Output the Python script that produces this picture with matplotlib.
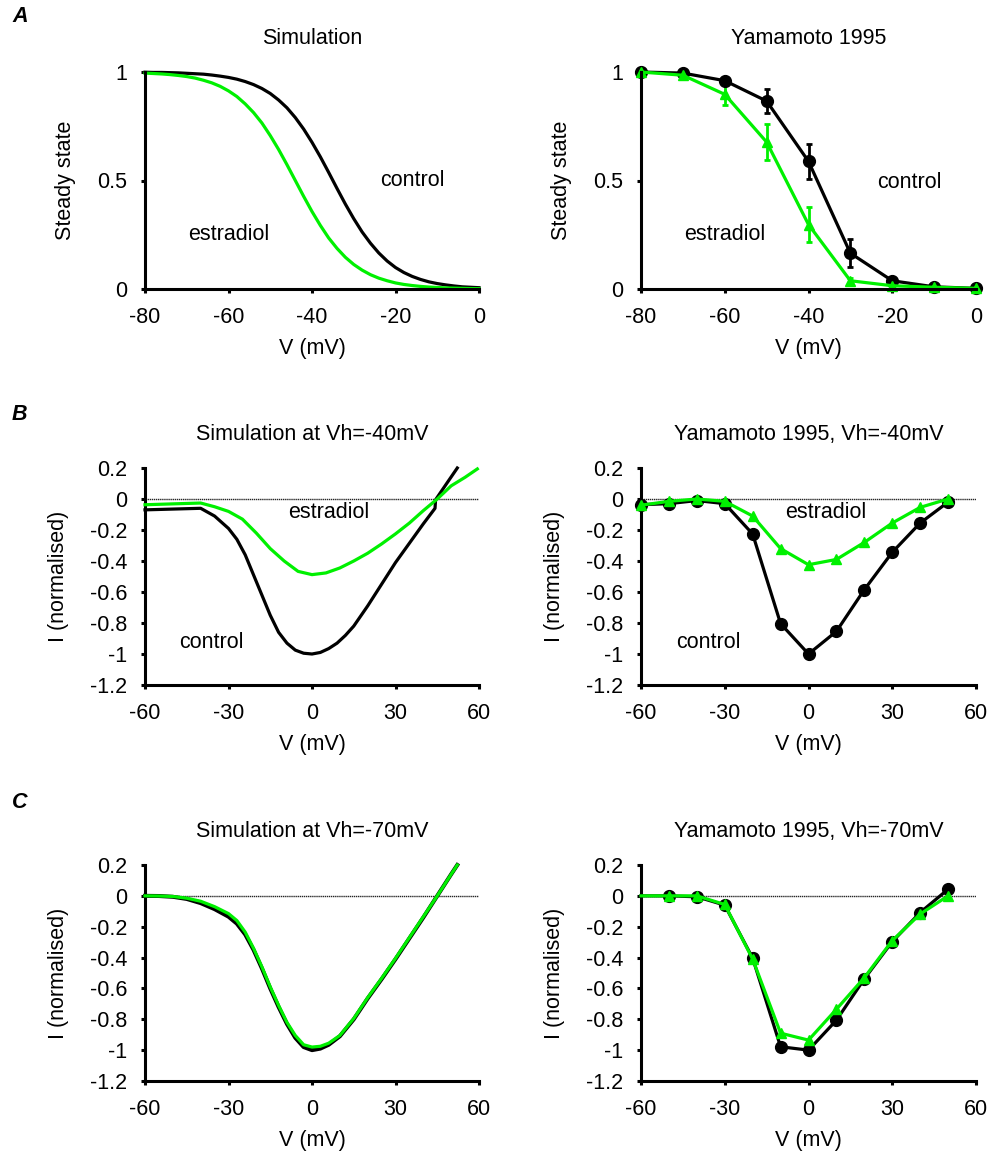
import matplotlib
matplotlib.use("Agg")
import matplotlib.pyplot as plt
import numpy as np

plt.rcParams['font.family'] = ['Liberation Sans', 'DejaVu Sans']
plt.rcParams['font.size'] = 15.5
plt.rcParams['axes.unicode_minus'] = False

GREEN = '#00f000'

# ---- Panel A: steady-state inactivation ----
# simulation curves, every 2 mV
a_sim_v = [-80, -78, -76, -74, -72, -70, -68, -66, -64, -62, -60, -58, -56, -54, -52, -50,
           -48, -46, -44, -42, -40, -38, -36, -34, -32, -30, -28, -26, -24, -22, -20,
           -18, -16, -14, -12, -10, -8, -6, -4, -2, 0]
a_sim_ctrl = [0.999, 0.998, 0.998, 0.997, 0.996, 0.994, 0.992, 0.990, 0.986, 0.981, 0.975,
              0.967, 0.956, 0.942, 0.924, 0.901, 0.871, 0.835, 0.790, 0.737, 0.676, 0.609,
              0.537, 0.463, 0.391, 0.324, 0.263, 0.211, 0.166, 0.129, 0.099, 0.076, 0.058,
              0.044, 0.033, 0.025, 0.019, 0.014, 0.010, 0.008, 0.006]
a_sim_e2 = [0.995, 0.993, 0.991, 0.988, 0.984, 0.979, 0.972, 0.962, 0.950, 0.934, 0.913,
            0.887, 0.853, 0.813, 0.765, 0.707, 0.643, 0.573, 0.500, 0.427, 0.357, 0.293,
            0.235, 0.187, 0.146, 0.113, 0.087, 0.066, 0.050, 0.038, 0.028, 0.021, 0.016,
            0.012, 0.009, 0.007, 0.005, 0.004, 0.003, 0.002, 0.0015]

# Yamamoto 1995 data
a_exp_v = [-80, -70, -60, -50, -40, -30, -20, -10, 0]
a_exp_ctrl = [1.0, 0.995, 0.96, 0.866, 0.588, 0.165, 0.038, 0.01, 0.003]
a_exp_ctrl_err = [0.0, 0.0, 0.015, 0.056, 0.08, 0.064, 0.015, 0.0, 0.0]
a_exp_e2 = [1.0, 0.985, 0.897, 0.677, 0.297, 0.038, 0.015, 0.008, 0.003]
a_exp_e2_err = [0.0, 0.0, 0.048, 0.082, 0.08, 0.012, 0.0, 0.0, 0.0]

# ---- Panel B: I-V at Vh=-40 mV ----
b_sim_ctrl_v = [-60, -40, -35, -30, -27, -24, -21, -18, -15, -12, -9, -6, -3, 0,
                3, 6, 9, 12, 15, 20, 25, 30, 35, 40, 44.2, 44.4, 48, 52.2]
b_sim_ctrl = [-0.07, -0.06, -0.11, -0.19, -0.26, -0.36, -0.49, -0.62, -0.75, -0.86, -0.93, -0.975, -0.995, -1.0,
              -0.99, -0.965, -0.93, -0.88, -0.82, -0.69, -0.55, -0.41, -0.285, -0.16, -0.06, -0.005, 0.09, 0.2]
b_sim_e2_v = [-60, -40, -35, -30, -25, -20, -15, -10, -5, 0, 5, 10,
              15, 20, 25, 30, 35, 40, 45, 50, 55, 59.4]
b_sim_e2 = [-0.037, -0.026, -0.05, -0.08, -0.13, -0.22, -0.32, -0.40, -0.467, -0.488, -0.477, -0.445,
            -0.40, -0.35, -0.29, -0.225, -0.155, -0.075, 0.0, 0.085, 0.14, 0.194]

b_exp_v = [-60, -50, -40, -30, -20, -10, 0, 10, 20, 30, 40, 50]
b_exp_ctrl = [-0.037, -0.03, -0.01, -0.03, -0.226, -0.804, -1.0, -0.854, -0.585, -0.344, -0.155, -0.02]
b_exp_e2 = [-0.04, -0.015, 0.0, -0.015, -0.11, -0.32, -0.424, -0.39, -0.28, -0.155, -0.054, 0.0]

# ---- Panel C: I-V at Vh=-70 mV ----
c_sim_v = [-60, -55, -50, -45, -40, -35, -30, -27, -24, -21, -18, -15, -12, -9, -6, -3, 0,
           3, 6, 10, 15, 20, 25, 30, 35, 40, 45, 50, 52.2]
c_sim_ctrl = [0.0, -0.001, -0.006, -0.02, -0.047, -0.086, -0.135, -0.18, -0.25, -0.35, -0.47, -0.60, -0.72,
              -0.83, -0.92, -0.98, -1.0, -0.99, -0.965, -0.91, -0.80, -0.665, -0.54, -0.41, -0.275, -0.14,
              0.0, 0.14, 0.2]
c_sim_e2 = [0.0, -0.001, -0.004, -0.015, -0.035, -0.07, -0.115, -0.16, -0.235, -0.34, -0.46, -0.59, -0.71,
            -0.82, -0.905, -0.965, -0.98, -0.975, -0.955, -0.905, -0.795, -0.66, -0.535, -0.405, -0.27, -0.135,
            0.0, 0.14, 0.2]

c_exp_v = [-60, -50, -40, -30, -20, -10, 0, 10, 20, 30, 40, 50]
c_exp_ctrl = [0.0, 0.0, -0.006, -0.06, -0.404, -0.978, -1.0, -0.806, -0.538, -0.297, -0.108, 0.043]
c_exp_e2 = [0.0, 0.0, 0.0, -0.056, -0.41, -0.89, -0.935, -0.735, -0.53, -0.29, -0.118, 0.0]


def style_axes(ax):
    for s in ['top', 'right']:
        ax.spines[s].set_visible(False)
    for s in ['left', 'bottom']:
        ax.spines[s].set_linewidth(2.2)
    ax.tick_params(direction='out', length=3, width=2.2, pad=10)


def iv_axes(ax):
    ax.set_xlim(-60, 60)
    ax.set_ylim(-1.2, 0.2)
    ax.set_xticks([-60, -30, 0, 30, 60])
    ax.set_yticks([0.2, 0, -0.2, -0.4, -0.6, -0.8, -1, -1.2])
    ax.set_yticklabels(['0.2', '0', '-0.2', '-0.4', '-0.6', '-0.8', '-1', '-1.2'])
    ax.axhline(0, color='0.15', lw=1.0, ls=(0, (1, 0.5)), zorder=1)
    ax.set_xlabel('V (mV)', labelpad=7)
    ax.set_ylabel('I (normalised)', labelpad=15)
    style_axes(ax)


fig = plt.figure(figsize=(9.96, 11.57), dpi=100)
W, H = 996.0, 1157.0
rows = [(72, 289), (468, 685), (865, 1081)]
cols = [(145, 479), (641, 976)]
axes = []
for top, bot in rows:
    r = []
    for l, rgt in cols:
        r.append(fig.add_axes([l / W, 1 - bot / H, (rgt - l) / W, (bot - top) / H]))
    axes.append(r)

lw = 2.3
title_pad = 20

# A left
ax = axes[0][0]
ax.plot(a_sim_v, a_sim_ctrl, color='black', lw=lw, clip_on=False)
ax.plot(a_sim_v, a_sim_e2, color=GREEN, lw=lw, clip_on=False)
ax.text(-16, 0.5, 'control', ha='center', va='center')
ax.text(-60, 0.25, 'estradiol', ha='center', va='center')
ax.set_title('Simulation', pad=title_pad, fontsize=15.5)

# A right
ax = axes[0][1]
ax.errorbar(a_exp_v, a_exp_ctrl, yerr=a_exp_ctrl_err, color='black', lw=lw, marker='o', ms=8.5,
            capsize=2.5, elinewidth=2, capthick=2, clip_on=False)
ax.errorbar(a_exp_v, a_exp_e2, yerr=a_exp_e2_err, color=GREEN, lw=lw, marker='^', ms=7,
            capsize=2.5, elinewidth=2, capthick=2, clip_on=False)
ax.text(-16, 0.49, 'control', ha='center', va='center')
ax.text(-60, 0.25, 'estradiol', ha='center', va='center')
ax.set_title('Yamamoto 1995', pad=title_pad, fontsize=15.5)

for ax in axes[0]:
    ax.set_xlim(-80, 0)
    ax.set_ylim(0, 1)
    ax.set_xticks([-80, -60, -40, -20, 0])
    ax.set_yticks([0, 0.5, 1])
    ax.set_yticklabels(['0', '0.5', '1'])
    ax.set_xlabel('V (mV)', labelpad=7)
    ax.set_ylabel('Steady state', labelpad=15)
    style_axes(ax)

# B left
ax = axes[1][0]
iv_axes(ax)
ax.plot(b_sim_ctrl_v, b_sim_ctrl, color='black', lw=lw, clip_on=False, zorder=3)
ax.plot(b_sim_e2_v, b_sim_e2, color=GREEN, lw=lw, clip_on=False, zorder=3)
ax.text(6, -0.09, 'estradiol', ha='center', va='center')
ax.text(-36, -0.925, 'control', ha='center', va='center')
ax.set_title('Simulation at Vh=-40mV', pad=title_pad, fontsize=15.5)

# B right
ax = axes[1][1]
iv_axes(ax)
ax.plot(b_exp_v, b_exp_ctrl, color='black', lw=lw, marker='o', ms=8.5, clip_on=False, zorder=3)
ax.plot(b_exp_v, b_exp_e2, color=GREEN, lw=lw, marker='^', ms=7, clip_on=False, zorder=4)
ax.text(6, -0.09, 'estradiol', ha='center', va='center')
ax.text(-36, -0.925, 'control', ha='center', va='center')
ax.set_title('Yamamoto 1995, Vh=-40mV', pad=title_pad, fontsize=15.5)

# C left
ax = axes[2][0]
iv_axes(ax)
ax.plot(c_sim_v, c_sim_ctrl, color='black', lw=lw + 0.6, clip_on=False, zorder=3)
ax.plot(c_sim_v, c_sim_e2, color=GREEN, lw=lw, clip_on=False, zorder=4)
ax.set_title('Simulation at Vh=-70mV', pad=title_pad, fontsize=15.5)

# C right
ax = axes[2][1]
iv_axes(ax)
ax.plot(c_exp_v, c_exp_ctrl, color='black', lw=lw, marker='o', ms=8.5, markevery=slice(1, None),
        clip_on=False, zorder=3)
ax.plot(c_exp_v, c_exp_e2, color=GREEN, lw=lw, marker='^', ms=7, markevery=slice(1, None),
        clip_on=False, zorder=4)
ax.set_title('Yamamoto 1995, Vh=-70mV', pad=title_pad, fontsize=15.5)

# panel letters
for letter, y in [('A', 17), ('B', 415), ('C', 802)]:
    fig.text(12 / W, 1 - y / H, letter, fontsize=15.5, fontweight='bold', fontstyle='italic',
             ha='left', va='center')

fig.savefig('out.png', dpi=100)
